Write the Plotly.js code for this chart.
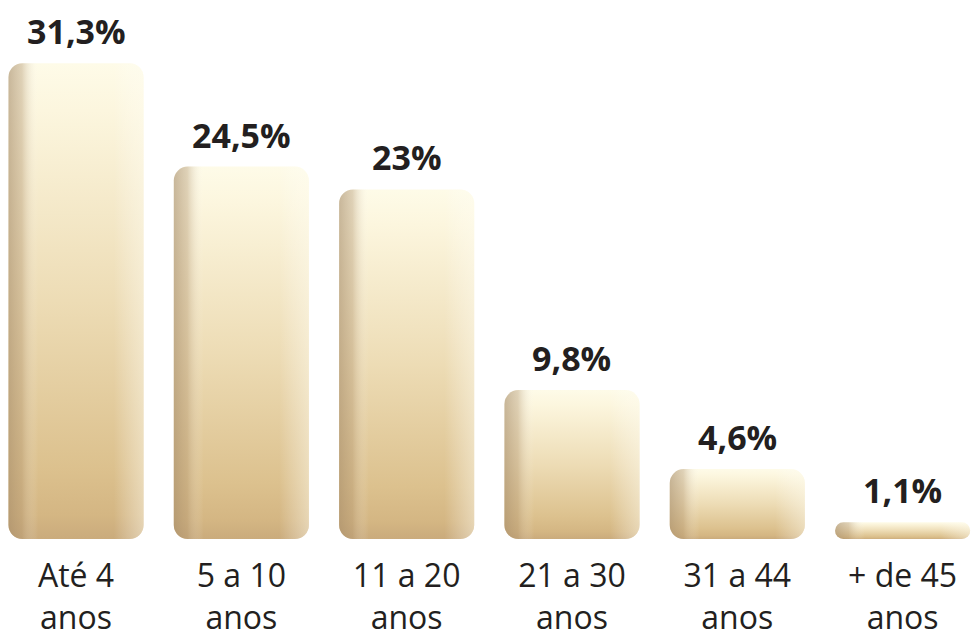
<!DOCTYPE html>
<html>
<head>
<meta charset="utf-8">
<script src="https://cdn.plot.ly/plotly-3.0.1.min.js"></script>
<style>
html,body{margin:0;padding:0;background:#fff;}
#chart{width:976px;height:642px;}
</style>
</head>
<body>
<div id="chart"></div>
<script>
const categories = ["Até 4 anos", "5 a 10 anos", "11 a 20 anos", "21 a 30 anos", "31 a 44 anos", "+ de 45 anos"];
const tickLabels = ["Até 4<br>anos", "5 a 10<br>anos", "11 a 20<br>anos", "21 a 30<br>anos", "31 a 44<br>anos", "+ de 45<br>anos"];
const values = [31.3, 24.5, 23, 9.8, 4.6, 1.1];
const valueLabels = ["31,3%", "24,5%", "23%", "9,8%", "4,6%", "1,1%"];

const FONT = '"Open Sans", "Noto Sans", sans-serif';

const trace = {
  type: 'bar',
  x: categories,
  y: values,
  width: 0.817,
  marker: {color: '#e8d3a6', line: {width: 0}},
  hoverinfo: 'skip'
};

const annotations = categories.map((c, i) => ({
  x: c, y: values[i], xref: 'x', yref: 'y',
  text: '<b>' + valueLabels[i] + '</b>',
  showarrow: false, yanchor: 'bottom', yshift: 7,
  font: {family: FONT, size: 34, color: '#231f20'}
}));

const layout = {
  width: 976, height: 642,
  margin: {l: 0, r: 0, t: 0, b: 103, pad: 0},
  paper_bgcolor: '#ffffff', plot_bgcolor: '#ffffff',
  showlegend: false,
  xaxis: {
    type: 'category',
    range: [-0.4598, 5.444],
    tickmode: 'array', tickvals: categories, ticktext: tickLabels,
    ticks: 'outside', ticklen: 9, tickcolor: 'rgba(0,0,0,0)',
    tickfont: {family: FONT, size: 32, color: '#231f20'},
    showgrid: false, zeroline: false, showline: false, fixedrange: true
  },
  yaxis: {
    range: [0, 35.46], visible: false, showgrid: false, zeroline: false, fixedrange: true
  },
  annotations: annotations
};

function roundRect(x, y, w, h, r) {
  r = Math.min(r, w / 2, h / 2);
  return 'M' + (x + r) + ',' + y +
    'H' + (x + w - r) + 'A' + r + ',' + r + ' 0 0 1 ' + (x + w) + ',' + (y + r) +
    'V' + (y + h - r) + 'A' + r + ',' + r + ' 0 0 1 ' + (x + w - r) + ',' + (y + h) +
    'H' + (x + r) + 'A' + r + ',' + r + ' 0 0 1 ' + x + ',' + (y + h - r) +
    'V' + (y + r) + 'A' + r + ',' + r + ' 0 0 1 ' + (x + r) + ',' + y + 'Z';
}

function addGradients(gd) {
  const NS = 'http://www.w3.org/2000/svg';
  const svg = gd.querySelector('.main-svg');
  const defs = document.createElementNS(NS, 'defs');
  function grad(id, x2, y2, stops) {
    const g = document.createElementNS(NS, 'linearGradient');
    g.setAttribute('id', id);
    g.setAttribute('x1', '0'); g.setAttribute('y1', '0');
    g.setAttribute('x2', x2); g.setAttribute('y2', y2);
    stops.forEach(s => {
      const st = document.createElementNS(NS, 'stop');
      st.setAttribute('offset', s[0]);
      st.setAttribute('stop-color', s[1]);
      st.setAttribute('stop-opacity', s[2]);
      g.appendChild(st);
    });
    defs.appendChild(g);
  }
  grad('gv', '0', '1', [
    [0, '#fefbe8', 1], [0.1, '#fcf6de', 1], [0.5, '#eddcb5', 1], [0.85, '#dcc18e', 1], [0.95, '#d4b683', 1], [1, '#caab7c', 1]
  ]);
  grad('gh', '1', '0', [
    [0, '#a48a68', 0.6], [0.1, '#b09470', 0.4], [0.22, '#ffffff', 0], [0.78, '#ffffff', 0], [1, '#fffdf2', 0.45]
  ]);
  svg.insertBefore(defs, svg.firstChild);

  gd.querySelectorAll('.trace.bars .point').forEach(pt => {
    const p = pt.querySelector('path');
    const b = p.getBBox();
    const d = roundRect(b.x, b.y, b.width, b.height, 14);
    p.setAttribute('d', d);
    p.style.fill = 'url(#gv)';
    p.style.fillOpacity = 1;
    const o = p.cloneNode();
    o.setAttribute('d', d);
    o.style.fill = 'url(#gh)';
    pt.appendChild(o);
  });
}

Plotly.newPlot('chart', [trace], layout, {staticPlot: true, displayModeBar: false})
  .then(addGradients);
</script>
</body>
</html>
